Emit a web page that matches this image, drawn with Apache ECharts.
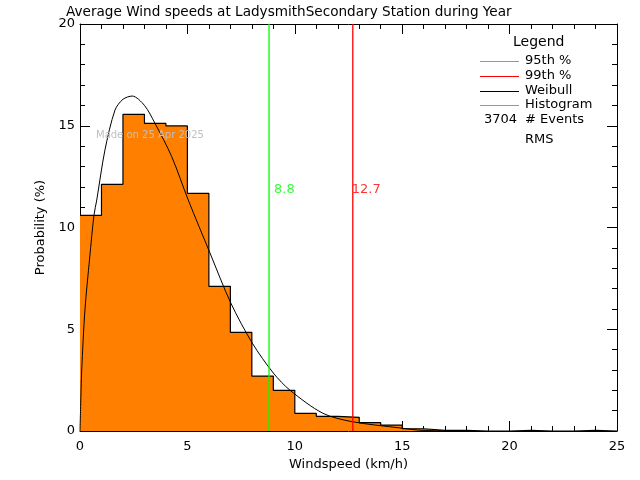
<!DOCTYPE html>
<html><head><meta charset="utf-8">
<script src="https://cdn.jsdelivr.net/npm/echarts@6/dist/echarts.min.js"></script>
<style>html,body{margin:0;padding:0;background:#fff}#c{width:640px;height:480px}</style>
</head><body><div id="c"></div>
<script>
// Histogram bins: [i, i+1) km/h, probability (%)
const binStarts = [0,1,2,3,4,5,6,7,8,9,10,11,12,13,14,15,16,17,18,19,20,21,22,23,24];
const binValues = [10.6,12.12,15.56,15.12,14.99,11.68,7.11,4.85,2.70,2.0,0.87,0.72,0.67,0.41,0.29,0.11,0.03,0.03,0,0,0.03,0,0,0.03,0];
// Weibull fit curve
const weibullX = [0,0.03,0.08,0.23,0.45,0.65,0.78,1.16,1.63,2.0,2.43,3.0,3.49,4.27,5.04,6.05,7.02,8.02,9.0,9.78,11.31,12.66,14.9,15.97,18];
const weibullY = [0,1.2,3.0,5.95,8.5,10.6,11.35,13.8,15.77,16.3,16.46,16.0,15.12,13.48,11.35,8.75,6.29,4.32,2.85,2.0,0.87,0.46,0.15,0.03,0];
const p95 = 8.8, p99 = 12.7;
const nEvents = 3704;
const xTicks = [0,5,10,15,20,25];
const yTicks = [0,5,10,15,20];

const FONT = 'DejaVu Sans';
const chart = echarts.init(document.getElementById('c'), null, {renderer:'canvas'});
const stepData = binStarts.map((x,i)=>[x, binValues[i]]);
stepData.push([binStarts[binStarts.length-1]+1, binValues[binValues.length-1]]);
const wData = weibullX.map((x,i)=>[x, weibullY[i]]);
const axisCommon = {
  axisLine:{show:true, onZero:false, lineStyle:{color:'#000', width:1}},
  axisTick:{show:true, inside:true, length:10, lineStyle:{color:'#000'}},
  minorTick:{show:true, splitNumber:5, length:5, lineStyle:{color:'#000'}},
  splitLine:{show:false}
};
chart.setOption({
  animation:false,
  backgroundColor:'#fff',
  title:{text:'Average Wind speeds at LadysmithSecondary Station during Year', left:61, top:0,
    textStyle:{fontFamily:FONT, fontSize:13.6, fontWeight:'normal', color:'#000'}},
  grid:{left:80, right:23, top:24, bottom:49},
  xAxis:[
    Object.assign({type:'value', min:0, max:25, interval:5, position:'bottom',
      name:'Windspeed (km/h)', nameLocation:'middle', nameGap:27,
      nameTextStyle:{fontFamily:FONT, fontSize:13, color:'#000'},
      axisLabel:{fontFamily:FONT, fontSize:13, color:'#000', margin:9,
        formatter:v=>xTicks.includes(v)?String(v):''}}, axisCommon),
    Object.assign({type:'value', min:0, max:25, interval:5, position:'top', axisLabel:{show:false}}, axisCommon)
  ],
  yAxis:[
    Object.assign({type:'value', min:0, max:20, interval:5, position:'left',
      name:'Probability (%)', nameLocation:'middle', nameGap:24, nameRotate:90,
      nameTextStyle:{fontFamily:FONT, fontSize:13, color:'#000'},
      axisLabel:{fontFamily:FONT, fontSize:13, color:'#000', margin:5,
        formatter:v=>yTicks.includes(v)?String(v):''}}, axisCommon),
    Object.assign({type:'value', min:0, max:20, interval:5, position:'right', axisLabel:{show:false}}, axisCommon)
  ],
  series:[
    {type:'line', name:'Histogram', step:'end', data:stepData, showSymbol:false, symbol:'none',
      lineStyle:{color:'#000', width:1.2}, areaStyle:{color:'#ff8000', opacity:1}, z:2},
    {type:'line', name:'Weibull', data:wData, smooth:0.3, showSymbol:false, symbol:'none',
      lineStyle:{color:'#000', width:1}, z:3},
    {type:'line', name:'95th', data:[[p95,0],[p95,20]], showSymbol:false, symbol:'none',
      lineStyle:{color:'#00ff00', width:1.3}, z:4},
    {type:'line', name:'99th', data:[[p99,0],[p99,20]], showSymbol:false, symbol:'none',
      lineStyle:{color:'#ff0000', width:1.3}, z:4},
    {type:'scatter', data:[[p95,11.84]], symbolSize:0, z:5,
      label:{show:true, position:'right', distance:5, formatter:String(p95), color:'#00ff00', fontFamily:FONT, fontSize:13}},
    {type:'scatter', data:[[p99,11.84]], symbolSize:0, z:5,
      label:{show:true, position:'right', distance:-1, formatter:String(p99), color:'#ff0000', fontFamily:FONT, fontSize:13}}
  ],
  graphic:[
    {type:'text', left:96, top:130, z:10, style:{text:'Made on 25 Apr 2025', fill:'#c0c0c0', font:'10px '+FONT}},
    {type:'text', left:513, top:35, style:{text:'Legend', fill:'#000', font:'14px '+FONT}},
    {type:'line', shape:{x1:480,y1:61.5,x2:519,y2:61.5}, style:{stroke:'#00ff00', lineWidth:1}},
    {type:'line', shape:{x1:480,y1:76.5,x2:519,y2:76.5}, style:{stroke:'#ff0000', lineWidth:1}},
    {type:'line', shape:{x1:480,y1:91.5,x2:519,y2:91.5}, style:{stroke:'#000', lineWidth:1}},
    {type:'line', shape:{x1:480,y1:105.5,x2:519,y2:105.5}, style:{stroke:'#ff8000', lineWidth:1}},
    {type:'text', left:525, top:54, style:{text:'95th %', fill:'#000', font:'13px '+FONT}},
    {type:'text', left:525, top:69, style:{text:'99th %', fill:'#000', font:'13px '+FONT}},
    {type:'text', left:525, top:84, style:{text:'Weibull', fill:'#000', font:'13px '+FONT}},
    {type:'text', left:525, top:98, style:{text:'Histogram', fill:'#000', font:'13px '+FONT}},
    {type:'text', left:484, top:113, style:{text:String(nEvents), fill:'#000', font:'13px '+FONT}},
    {type:'text', left:525, top:113, style:{text:'# Events', fill:'#000', font:'13px '+FONT}},
    {type:'text', left:525, top:133, style:{text:'RMS', fill:'#000', font:'13px '+FONT}}
  ]
});
</script></body></html>
